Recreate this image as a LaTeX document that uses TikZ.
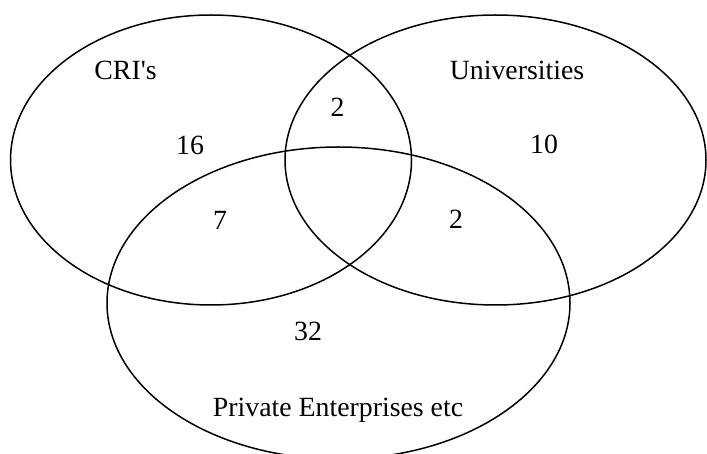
\documentclass[tikz,border=0pt]{standalone}
\usepackage{fontspec}
\setmainfont{Liberation Serif}
\begin{document}
\begin{tikzpicture}[x=1pt,y=-1pt,
  setline/.style={line width=1.5pt},
  lbl/.style={anchor=base,inner sep=0pt,font=\fontsize{27.8}{32}\selectfont}]
\useasboundingbox (0,0) rectangle (707,454);
\clip (0,0) rectangle (707,454);
% the three sets
\draw[setline] (211,160) ellipse [x radius=200.5, y radius=145];
\draw[setline] (495.5,160) ellipse [x radius=210.5, y radius=145];
\draw[setline] (338.5,303) ellipse [x radius=231.5, y radius=156];
% set names
\node[lbl] (cri) at (125.5,80) {CRI\textquotesingle s};
\node[lbl] (uni) at (517,80) {Universities};
\node[lbl] (pri) at (338,416.5) {Private Enterprises etc};
% region counts
\node[lbl] (n16) at (190,155) {16};
\node[lbl] (n2a) at (337.5,117) {2};
\node[lbl] (n10) at (544,154) {10};
\node[lbl] (n7) at (220,230) {7};
\node[lbl] (n2b) at (456,229) {2};
\node[lbl] (n32) at (308,340.5) {32};
\end{tikzpicture}
\end{document}
